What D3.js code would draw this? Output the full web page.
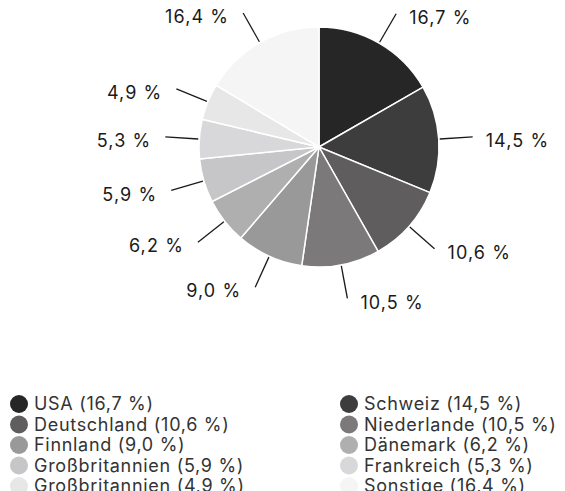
<!DOCTYPE html>
<html>
<head>
 <meta charset="utf-8"/>
 <script src="https://d3js.org/d3.v7.min.js"></script>
 <style>
  body { margin: 0; background: #fff; }
  text { font-family: Inter, "Noto Sans", sans-serif; fill: #1a1a1a; }
 </style>
</head>
<body>
 <div id="chart"></div>
 <script type="text/javascript">
   // Daten
   var countries = ["USA", "Schweiz", "Deutschland", "Niederlande", "Finnland",
                    "Dänemark", "Großbritannien", "Frankreich", "Großbritannien", "Sonstige"];
   var shares = [16.7, 14.5, 10.6, 10.5, 9.0, 6.2, 5.9, 5.3, 4.9, 16.4];
   var colors = ["#262626", "#3d3d3d", "#5f5d5e", "#7b797a", "#9a999a",
                 "#b0afb0", "#c6c5c7", "#d8d7d9", "#e7e7e7", "#f5f5f5"];

   var width = 565, height = 491;
   var cx = 319, cy = 147, radius = 120;
   var fmt = function (v) { return d3.format(".1f")(v).replace(".", ",") + " %"; };

   var svg = d3.select("#chart").append("svg")
     .attr("width", width)
     .attr("height", height);

   var data = shares.map(function (v, i) { return {name: countries[i], value: v, color: colors[i]}; });
   var pie = d3.pie().value(function (d) { return d.value; }).sort(null);
   var arcs = pie(data);
   var arc = d3.arc().innerRadius(0).outerRadius(radius);
   var lineInner = d3.arc().innerRadius(121).outerRadius(121);
   var lineOuter = d3.arc().innerRadius(154).outerRadius(154);

   var g = svg.append("g").attr("transform", "translate(" + cx + "," + cy + ")");

   g.selectAll("path.slice")
    .data(arcs)
    .enter().append("path")
    .attr("class", "slice")
    .attr("d", arc)
    .style("fill", function (d) { return d.data.color; })
    .style("stroke", "#fff")
    .style("stroke-width", 1.5);

   // Beschriftungen mit Linien
   g.selectAll("line.leader")
    .data(arcs)
    .enter().append("line")
    .attr("class", "leader")
    .attr("x1", function (d) { return lineInner.centroid(d)[0]; })
    .attr("y1", function (d) { return lineInner.centroid(d)[1]; })
    .attr("x2", function (d) { return lineOuter.centroid(d)[0]; })
    .attr("y2", function (d) { return lineOuter.centroid(d)[1]; })
    .style("stroke", "#1a1a1a")
    .style("stroke-width", 1.3);

   g.selectAll("text.lbl")
    .data(arcs)
    .enter().append("text")
    .attr("class", "lbl")
    .attr("x", function (d) {
      var p = lineOuter.centroid(d);
      return p[0] >= 0 ? p[0] + 13 : p[0] - 14;
    })
    .attr("y", function (d) { return lineOuter.centroid(d)[1] + 4; })
    .attr("dy", "0.35em")
    .attr("text-anchor", function (d) { return lineOuter.centroid(d)[0] >= 0 ? "start" : "end"; })
    .style("font-size", "18px")
    .style("letter-spacing", "1.1px")
    .text(function (d) { return fmt(d.data.value); });

   // Legende
   var legend = svg.append("g");
   var rowH = 20.5;
   var item = legend.selectAll("g.item")
    .data(data)
    .enter().append("g")
    .attr("class", "item")
    .attr("transform", function (d, i) {
      var col = i % 2, row = Math.floor(i / 2);
      return "translate(" + (19 + col * 330) + "," + (404 + row * rowH) + ")";
    });
   item.append("circle")
    .attr("r", 9)
    .style("fill", function (d) { return d.color; });
   item.append("text")
    .attr("x", 15)
    .attr("dy", "0.35em")
    .style("font-size", "18px")
    .style("letter-spacing", "0.7px")
    .style("fill", "#333")
    .text(function (d) { return d.name + " (" + fmt(d.value) + ")"; });
 </script>
</body>
</html>
